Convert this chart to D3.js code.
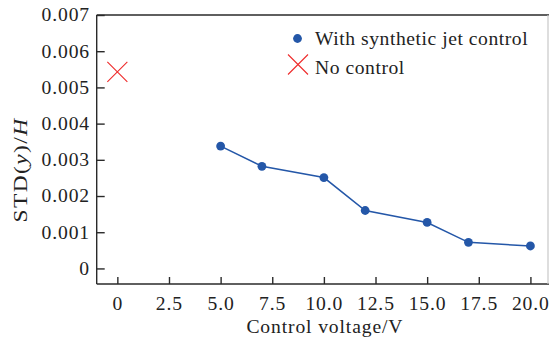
<!DOCTYPE html>
<html>
<head>
<meta charset="utf-8">
<script src="https://cdn.jsdelivr.net/npm/d3@7/dist/d3.min.js"></script>
<style>
  html, body { margin: 0; padding: 0; background: #fff; }
  svg { display: block; font-family: "Liberation Serif", "Times New Roman", serif; }
</style>
</head>
<body>
<svg id="chart" width="550" height="340"></svg>
<script>
// Control voltage (V) and the normalised displacement standard deviation
const voltages = [5, 7, 10, 12, 15, 17, 20];
const stdWithJet = [0.00338, 0.00282, 0.00251, 0.00160, 0.00127, 0.00072, 0.00062];
const noControlVoltage = [0];
const stdNoControl = [0.00543];

const xTickValues = [0, 2.5, 5, 7.5, 10, 12.5, 15, 17.5, 20];
const xTickLabels = ["0", "2.5", "5.0", "7.5", "10.0", "12.5", "15.0", "17.5", "20.0"];
const yTickValues = [0, 0.001, 0.002, 0.003, 0.004, 0.005, 0.006, 0.007];
const yTickLabels = ["0", "0.001", "0.002", "0.003", "0.004", "0.005", "0.006", "0.007"];
const legendLabels = ["With synthetic jet control", "No control"];

const blue = "#2457a8";
const red = "#ee2b2b";
const axisColor = "#2a2a2a";
const textColor = "#222";
const stretch = 1.09;   // wide serif lettering

const svg = d3.select("#chart");
const plotLeft = 96.7, plotRight = 549, plotTop = 15, plotBottom = 284;

const x = d3.scaleLinear().domain([-1.0, 20.9]).range([plotLeft, plotRight]);
const y = d3.scaleLinear().domain([-0.00043, 0.007]).range([plotBottom, plotTop]);

function label(g, tx, ty, str, anchor, size, spacing) {
  return g.append("text")
    .attr("transform", `translate(${tx},${ty}) scale(${stretch},1)`)
    .attr("text-anchor", anchor)
    .attr("font-size", size)
    .attr("letter-spacing", spacing)
    .attr("fill", textColor)
    .text(str);
}

// Frame
svg.append("line").attr("x1", plotLeft).attr("x2", plotRight).attr("y1", plotTop).attr("y2", plotTop)
  .attr("stroke", axisColor).attr("stroke-width", 1.4);
svg.append("line").attr("x1", plotLeft).attr("x2", plotRight).attr("y1", plotBottom).attr("y2", plotBottom)
  .attr("stroke", axisColor).attr("stroke-width", 1.4);
svg.append("line").attr("x1", plotLeft).attr("x2", plotLeft).attr("y1", plotTop).attr("y2", plotBottom)
  .attr("stroke", axisColor).attr("stroke-width", 1.4);
svg.append("line").attr("x1", plotRight - 1).attr("x2", plotRight - 1).attr("y1", plotTop).attr("y2", plotBottom)
  .attr("stroke", "#c8c8c8").attr("stroke-width", 1.2);

// Y axis: inward ticks, labels on the left
const yAxis = d3.axisRight(y).tickValues(yTickValues).tickSize(8).tickFormat("");
const gy = svg.append("g").attr("transform", `translate(${plotLeft},0)`).call(yAxis);
gy.select(".domain").remove();
gy.selectAll(".tick line").attr("stroke", axisColor).attr("stroke-width", 1.4);
const gyl = svg.append("g");
yTickValues.forEach((v, i) => {
  label(gyl, 90, y(v) + 6.3, yTickLabels[i], "end", 18, 0.8);
});

// X axis: inward ticks, labels below
const xAxis = d3.axisTop(x).tickValues(xTickValues).tickSize(7).tickFormat("");
const gx = svg.append("g").attr("transform", `translate(0,${plotBottom})`).call(xAxis);
gx.select(".domain").remove();
gx.selectAll(".tick line").attr("stroke", axisColor).attr("stroke-width", 1.4);
const gxl = svg.append("g");
xTickValues.forEach((v, i) => {
  label(gxl, x(v) + 0.4, 310, xTickLabels[i], "middle", 18, 0.8);
});

// Axis titles
label(svg, (plotLeft + plotRight) / 2 + 2, 333, "Control voltage/V", "middle", 18, 0.8);
const yt = svg.append("text")
  .attr("transform", "translate(27,170) rotate(-90) scale(1.2,1)")
  .attr("text-anchor", "middle")
  .attr("font-size", 19.5)
  .attr("letter-spacing", 1.2)
  .attr("fill", textColor);
yt.append("tspan").text("STD(");
yt.append("tspan").attr("font-style", "italic").text("y");
yt.append("tspan").text(")/");
yt.append("tspan").attr("font-style", "italic").text("H");

// Series with synthetic jet control
const line = d3.line().x((d, i) => x(voltages[i])).y(d => y(d));
svg.append("path").datum(stdWithJet)
  .attr("d", line).attr("fill", "none")
  .attr("stroke", blue).attr("stroke-width", 1.5);
svg.selectAll("circle.pt").data(stdWithJet).enter().append("circle")
  .attr("class", "pt")
  .attr("cx", (d, i) => x(voltages[i])).attr("cy", d => y(d))
  .attr("r", 4.4).attr("fill", blue);

// No-control reference point
function cross(g, cx, cy, h) {
  g.append("path")
    .attr("d", `M${cx - h},${cy - h}L${cx + h},${cy + h}M${cx - h},${cy + h}L${cx + h},${cy - h}`)
    .attr("stroke", red).attr("stroke-width", 1.1).attr("fill", "none");
}
stdNoControl.forEach((v, i) => cross(svg, x(noControlVoltage[i]), y(v), 10));

// Legend
const lg = svg.append("g");
lg.append("circle").attr("cx", 297.5).attr("cy", 38.5).attr("r", 4.4).attr("fill", blue);
label(lg, 315, 45, legendLabels[0], "start", 18, 0.5);
cross(lg, 298, 64.5, 10);
label(lg, 315, 74, legendLabels[1], "start", 18, 0.5);
</script>
</body>
</html>
